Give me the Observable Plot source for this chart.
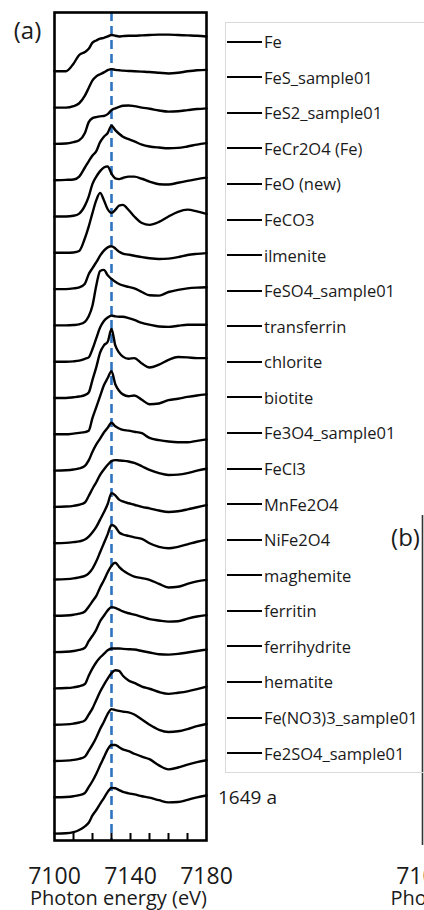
<!DOCTYPE html>
<html><head><meta charset="utf-8">
<script src="https://cdn.jsdelivr.net/npm/d3@7"></script>
<script src="https://cdn.jsdelivr.net/npm/@observablehq/plot@0.6"></script>
<style>
body{margin:0;background:#fff;}
#wrap{position:relative;width:424px;height:910px;overflow:hidden;font-family:"Open Sans",sans-serif;background:#fff;}
#wrap svg{position:absolute;left:0;top:0;max-width:none !important;}
.legend{position:absolute;left:225px;top:22px;width:220px;height:751px;border:1px solid #d9d9d9;box-sizing:border-box;background:transparent;}
.item{position:absolute;left:0;height:22px;display:flex;align-items:center;font-size:16.5px;color:#1a1a1a;white-space:nowrap;}
.item .sw{width:35px;height:2px;background:#000;margin-left:1px;margin-right:2px;}
.sample{position:absolute;left:218px;top:785px;font-size:19px;color:#1a1a1a;line-height:24px;white-space:nowrap;}
</style></head><body><div id="wrap"></div>
<script>
// Photon energy grid (eV)
const energy = [7100,7106,7110,7113,7116,7118,7120,7122,7124,7126,7128,7130,7132,7134,7136,7139,7142,7146,7150,7155,7160,7165,7170,7175,7180];
// Normalized absorbance, one array per spectrum (top to bottom)
const Fe          = [0,0,0.21,0.45,0.53,0.62,0.79,0.85,0.9,0.92,0.96,1.0,0.98,0.96,0.97,0.98,0.98,0.99,1.0,1.01,1.01,1.0,0.99,0.98,0.96];
const FeS         = [0,0,0.04,0.12,0.33,0.54,0.75,0.86,0.92,0.97,1.03,1.06,1.04,1.03,1.02,1.01,1.0,0.99,0.98,0.96,0.94,0.96,1.0,1.03,1.04];
const FeS2        = [0,0.01,0.05,0.1,0.3,0.6,0.71,0.74,0.76,0.77,0.82,0.93,0.98,1.02,1.05,1.06,1.04,1.0,0.97,0.92,0.89,0.9,0.93,0.96,0.98];
const FeCr2O4     = [0,0.01,0.02,0.1,0.35,0.52,0.68,0.8,1.05,1.2,1.3,1.5,1.38,1.28,1.2,1.13,1.07,0.98,0.93,0.9,0.88,0.89,0.93,0.98,1.02];
const FeO         = [0,0,0.02,0.08,0.3,0.55,0.9,1.1,1.25,1.35,1.38,1.18,1.05,1.03,1.06,1.1,1.1,1.04,0.96,0.89,0.88,0.93,0.98,1.03,1.07];
const FeCO3       = [0,0,0.01,0.05,0.4,0.72,1.1,1.45,1.65,1.45,1.2,1.1,1.18,1.3,1.32,1.18,1.0,0.82,0.77,0.85,1.0,1.13,1.19,1.14,1.07];
const ilmenite    = [0,0,0.02,0.05,0.15,0.41,0.58,0.74,0.92,1.06,1.15,1.18,1.12,1.03,0.98,0.95,0.92,0.88,0.85,0.83,0.84,0.88,0.94,0.97,0.99];
const FeSO4       = [0,0,0.01,0.03,0.1,0.25,0.55,1.1,1.5,1.53,1.38,1.28,1.2,1.14,1.1,1.06,1.02,0.92,0.83,0.82,0.92,0.98,1.02,1.04,1.05];
const transferrin = [0,0,0.01,0.03,0.08,0.12,0.35,0.65,0.94,1.12,1.22,1.27,1.25,1.24,1.24,1.2,1.15,1.07,1.02,0.97,0.96,0.99,1.02,1.02,1.02];
const chlorite    = [0,0,0.02,0.04,0.08,0.15,0.5,0.85,1.25,1.45,1.55,1.9,1.45,1.25,1.14,1.08,1.1,0.95,0.84,0.92,1.05,1.13,1.12,1.1,1.1];
const biotite     = [0,0,0.02,0.04,0.06,0.1,0.45,0.75,1.05,1.35,1.55,1.74,1.38,1.2,1.1,1.05,1.07,0.95,0.83,0.85,0.94,0.98,1.03,1.07,1.1];
const Fe3O4       = [0,0.01,0.03,0.06,0.13,0.28,0.52,0.72,0.88,1.05,1.18,1.32,1.22,1.16,1.12,1.1,1.07,1.03,0.9,0.84,0.8,0.78,0.78,0.82,0.86];
const FeCl3       = [0,0.01,0.03,0.06,0.12,0.3,0.5,0.68,0.88,1.03,1.16,1.26,1.29,1.28,1.27,1.25,1.21,1.12,1.02,0.93,0.88,0.89,0.93,1.0,1.05];
const MnFe2O4     = [0,0.01,0.03,0.05,0.1,0.18,0.3,0.45,0.65,0.85,1.08,1.38,1.32,1.2,1.15,1.1,1.06,1.0,0.96,0.9,0.86,0.88,0.93,0.99,1.05];
const NiFe2O4     = [0,0.01,0.03,0.06,0.1,0.17,0.3,0.5,0.75,1.0,1.25,1.5,1.45,1.3,1.24,1.2,1.16,1.12,1.0,0.9,0.86,0.9,0.97,1.04,1.1];
const maghemite   = [0,0.01,0.03,0.06,0.12,0.25,0.4,0.55,0.78,0.98,1.2,1.38,1.46,1.35,1.25,1.15,1.08,1.04,0.99,0.88,0.78,0.8,0.88,0.95,0.99];
const ferritin    = [0,0.01,0.03,0.06,0.12,0.3,0.45,0.62,0.85,1.0,1.15,1.24,1.22,1.17,1.12,1.07,1.03,0.97,0.91,0.87,0.84,0.85,0.92,0.98,1.02];
const ferrihydrite= [0,0.01,0.03,0.06,0.12,0.35,0.55,0.72,0.85,0.95,1.05,1.1,1.1,1.1,1.09,1.08,1.07,1.03,0.99,0.94,0.93,0.95,0.99,1.03,1.07];
const hematite    = [0,0.01,0.03,0.06,0.12,0.28,0.45,0.68,0.91,1.1,1.27,1.42,1.5,1.48,1.35,1.22,1.15,1.05,0.99,0.9,0.85,0.88,0.92,0.98,1.05];
const FeNO33      = [0,0.01,0.03,0.06,0.12,0.28,0.45,0.65,0.88,1.08,1.3,1.43,1.4,1.38,1.36,1.34,1.28,1.14,1.0,0.86,0.8,0.82,0.88,0.96,1.02];
const Fe2SO4      = [0,0.01,0.03,0.06,0.12,0.28,0.45,0.65,0.88,1.1,1.32,1.44,1.44,1.38,1.32,1.27,1.2,1.12,1.05,0.88,0.77,0.82,0.9,0.97,1.02];
const s1649a      = [0,0.01,0.04,0.1,0.2,0.3,0.5,0.65,0.82,0.98,1.15,1.26,1.25,1.2,1.15,1.11,1.08,1.03,0.99,0.92,0.86,0.87,0.93,1.0,1.05];

const seriesNames = ["Fe","FeS_sample01","FeS2_sample01","FeCr2O4 (Fe)","FeO (new)","FeCO3","ilmenite","FeSO4_sample01","transferrin","chlorite","biotite","Fe3O4_sample01","FeCl3","MnFe2O4","NiFe2O4","maghemite","ferritin","ferrihydrite","hematite","Fe(NO3)3_sample01","Fe2SO4_sample01","1649 a"];
const seriesValues = [Fe,FeS,FeS2,FeCr2O4,FeO,FeCO3,ilmenite,FeSO4,transferrin,chlorite,biotite,Fe3O4,FeCl3,MnFe2O4,NiFe2O4,maghemite,ferritin,ferrihydrite,hematite,FeNO33,Fe2SO4,s1649a];
const labelTicks = [7100,7140,7180];
const minorTicks = [7110,7120,7130,7140,7150,7160,7170];
const dashEnergy = [7130];

const n = seriesNames.length;
const rows = [];
seriesValues.forEach((vals, i) => {
  vals.forEach((v, j) => rows.push({name: seriesNames[i], e: energy[j], y: v + (n - 1 - i)}));
});

const wrap = document.getElementById("wrap");

const plotA = Plot.plot({
  width: 424, height: 910,
  marginTop: 12, marginBottom: 70, marginLeft: 54, marginRight: 218,
  style: {fontFamily: "Open Sans, sans-serif", color: "#1a1a1a", background: "transparent"},
  x: {domain: [7100, 7180]},
  y: {domain: [-0.19, 22.62], axis: null},
  marks: [
    Plot.ruleX(dashEnergy, {stroke: "#2f74c0", strokeWidth: 2.6, strokeDasharray: "9,5"}),
    Plot.line(rows, {x: "e", y: "y", z: "name", curve: "monotone-x", stroke: "#000", strokeWidth: 2.4}),
    Plot.tickX(minorTicks, {x: d => d, insetTop: 821, stroke: "#000", strokeWidth: 2}),
    Plot.frame({stroke: "#000", strokeWidth: 2.6}),
    Plot.axisX({ticks: labelTicks, tickSize: 0, tickPadding: 27, fontSize: 23, tickFormat: "d", label: null}),
    Plot.text(["Photon energy (eV)"], {frameAnchor: "bottom", textAnchor: "middle", lineAnchor: "middle", dy: 58, dx: -12, fontSize: 20}),
    Plot.text(["(a)"], {frameAnchor: "top-left", textAnchor: "middle", lineAnchor: "middle", dx: -27, dy: 19, fontSize: 24})
  ]
});

const plotB = Plot.plot({
  width: 700, height: 910,
  marginTop: 515, marginBottom: 65, marginLeft: 422, marginRight: 126,
  style: {fontFamily: "Open Sans, sans-serif", color: "#1a1a1a", background: "transparent"},
  x: {domain: [7100, 7180]},
  y: {domain: [0, 1], axis: null},
  marks: [
    Plot.ruleX([7100], {stroke: "#333", strokeWidth: 1.6}),
    Plot.axisX({ticks: labelTicks, tickSize: 0, tickPadding: 22, fontSize: 23, tickFormat: "d", label: null}),
    Plot.text(["Photon energy (eV)"], {frameAnchor: "bottom-left", textAnchor: "start", lineAnchor: "middle", dy: 53, dx: -32, fontSize: 20}),
    Plot.text(["(b)"], {frameAnchor: "top-left", textAnchor: "middle", lineAnchor: "middle", dx: -17, dy: 23, fontSize: 24})
  ]
});
plotB.style.maxWidth = "none";
plotB.style.width = "700px";
plotB.style.height = "910px";

wrap.appendChild(plotB);
wrap.appendChild(plotA);

// legend
const legend = document.createElement("div");
legend.className = "legend";
seriesNames.slice(0, n - 1).forEach((name, k) => {
  const it = document.createElement("div");
  it.className = "item";
  it.style.top = (41.7 + 35.57 * k - 22 - 1 - 11) + "px";
  const sw = document.createElement("span"); sw.className = "sw";
  const tx = document.createElement("span"); tx.textContent = name;
  it.appendChild(sw); it.appendChild(tx);
  legend.appendChild(it);
});
wrap.appendChild(legend);
const last = document.createElement("div");
last.className = "sample";
last.textContent = seriesNames[n - 1];
wrap.appendChild(last);
</script>
</body></html>
